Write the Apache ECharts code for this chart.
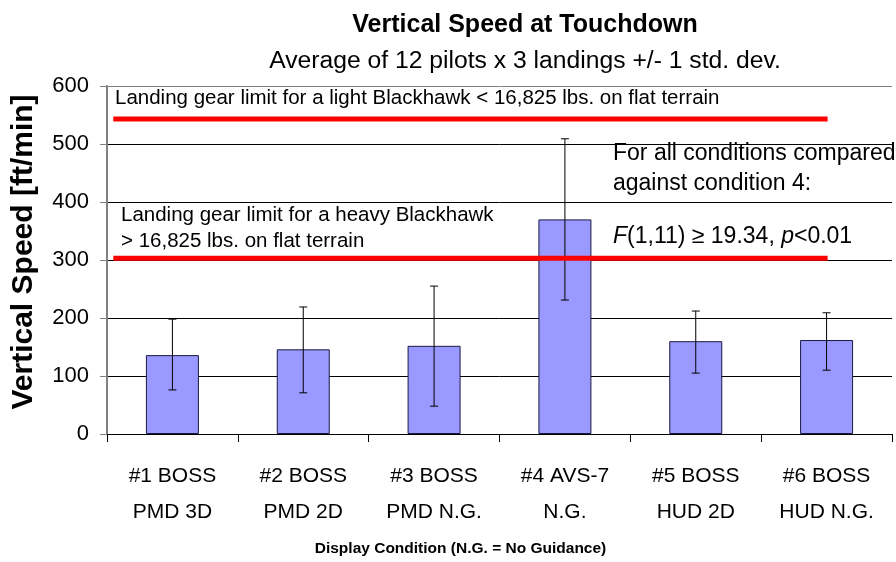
<!DOCTYPE html>
<html>
<head>
<meta charset="utf-8">
<script src="https://cdn.jsdelivr.net/npm/echarts@6/dist/echarts.min.js"></script>
<style>
  html, body { margin: 0; padding: 0; background: #fff; }
  #chart { width: 896px; height: 562px; }
</style>
</head>
<body>
<div id="chart"></div>
<script>
// display conditions and results (ft/min)
const categories = [
  '#1 BOSS\nPMD 3D',
  '#2 BOSS\nPMD 2D',
  '#3 BOSS\nPMD N.G.',
  '#4 AVS-7\nN.G.',
  '#5 BOSS\nHUD 2D',
  '#6 BOSS\nHUD N.G.'
]
const meanSpeed = [136, 146, 152, 370, 160, 162]
const errLow = [76, 71, 48, 231, 105, 110]
const errHigh = [198, 219, 255, 509, 212, 209]
const yTicks = [0, 100, 200, 300, 400, 500, 600]

// landing gear limits, drawn across most of the plot width
const lightLimit = 543
const heavyLimit = 303
const limitSpan = [0.008, 0.918]

const sans = '"Liberation Sans", Arial, sans-serif'

var myChart = echarts.init(document.getElementById('chart'))

var option = {
  animation: false,
  backgroundColor: '#fff',
  title: [
    {
      text: 'Vertical Speed at Touchdown',
      left: 520,
      top: 8,
      textAlign: 'center',
      textStyle: { fontFamily: sans, fontSize: 25, fontWeight: 'bold', color: '#000' },
    },
    {
      text: 'Average of 12 pilots x 3 landings +/- 1 std. dev.',
      left: 520,
      top: 44,
      textAlign: 'center',
      textStyle: { fontFamily: sans, fontSize: 24.7, fontWeight: 'normal', color: '#000' },
    },
  ],
  grid: { left: 107, right: 4, top: 86, bottom: 128, containLabel: false, outerBoundsMode: 'none' },
  xAxis: [
    {
      type: 'category',
      data: categories,
      name: 'Display Condition (N.G. = No Guidance)',
      nameLocation: 'middle',
      nameGap: 107,
      nameTextStyle: { fontFamily: sans, fontSize: 15.5, fontWeight: 'bold', color: '#000', padding: [0, 78, 0, 0] },
      axisLine: { lineStyle: { color: '#000', width: 1 } },
      axisTick: { show: true, length: 8, lineStyle: { color: '#000' } },
      axisLabel: { fontFamily: sans, fontSize: 21, color: '#000', lineHeight: 36, margin: 24, interval: 0 },
    },
    {
      type: 'value',
      min: 0,
      max: 1,
      show: false,
    },
  ],
  yAxis: {
    type: 'value',
    min: 0,
    max: 600,
    interval: 100,
    name: 'Vertical Speed [ft/min]',
    nameLocation: 'middle',
    nameGap: 68,
    nameTextStyle: { fontFamily: sans, fontSize: 30, fontWeight: 'bold', color: '#000', padding: [0, 0, 0, 16] },
    axisLine: { show: true, lineStyle: { color: '#808080', width: 2 } },
    axisTick: { show: true, length: 7, lineStyle: { color: '#808080' } },
    axisLabel: {
      fontFamily: sans,
      fontSize: 22,
      color: '#000',
      margin: 18,
      customValues: yTicks,
    },
    splitLine: {
      show: true,
      lineStyle: { color: ['#000', '#000', '#000', '#000', '#000', '#000', '#808080'], width: 1 },
    },
  },
  graphic: [
    {
      type: 'text',
      left: 115,
      top: 88,
      style: { text: 'Landing gear limit for a light Blackhawk < 16,825 lbs. on flat terrain', font: '20.5px ' + sans, fill: '#000' },
    },
    {
      type: 'text',
      left: 121,
      top: 202,
      style: { text: 'Landing gear limit for a heavy Blackhawk\n> 16,825 lbs. on flat terrain', font: '20.5px ' + sans, fill: '#000', lineHeight: 26 },
    },
    {
      type: 'text',
      left: 613,
      top: 139,
      style: { text: 'For all conditions compared\nagainst condition 4:', font: '23px ' + sans, fill: '#000', lineHeight: 30 },
    },
    {
      type: 'text',
      left: 613,
      top: 225,
      style: {
        text: '{i|F}(1,11) ≥ 19.34, {i|p}<0.01',
        font: '23px ' + sans,
        fill: '#000',
        rich: { i: { fontFamily: sans, fontSize: 23, fontStyle: 'italic', color: '#000' } },
      },
    },
  ],
  series: [
    {
      name: 'Vertical Speed',
      type: 'bar',
      data: meanSpeed,
      barWidth: 53,
      itemStyle: { color: '#9999ff', borderColor: '#1a1a40', borderWidth: 1 },
      z: 2,
    },
    {
      name: 'Std. dev.',
      type: 'custom',
      data: meanSpeed.map((v, i) => [i, errLow[i], errHigh[i]]),
      encode: { x: 0, y: [1, 2] },
      z: 3,
      renderItem: function (params, api) {
        const x = api.value(0)
        const lo = api.coord([x, api.value(1)])
        const hi = api.coord([x, api.value(2)])
        const cap = 4
        const style = { stroke: '#000', lineWidth: 1 }
        return {
          type: 'group',
          children: [
            { type: 'line', shape: { x1: lo[0], y1: lo[1], x2: hi[0], y2: hi[1] }, style: style },
            { type: 'line', shape: { x1: lo[0] - cap, y1: lo[1], x2: lo[0] + cap, y2: lo[1] }, style: style },
            { type: 'line', shape: { x1: hi[0] - cap, y1: hi[1], x2: hi[0] + cap, y2: hi[1] }, style: style },
          ],
        }
      },
    },
    {
      name: 'Light limit',
      type: 'line',
      xAxisIndex: 1,
      data: [[limitSpan[0], lightLimit], [limitSpan[1], lightLimit]],
      symbol: 'none',
      lineStyle: { color: '#ff0000', width: 5 },
      z: 4,
    },
    {
      name: 'Heavy limit',
      type: 'line',
      xAxisIndex: 1,
      data: [[limitSpan[0], heavyLimit], [limitSpan[1], heavyLimit]],
      symbol: 'none',
      lineStyle: { color: '#ff0000', width: 5 },
      z: 4,
    },
  ],
}

myChart.setOption(option)
</script>
</body>
</html>
